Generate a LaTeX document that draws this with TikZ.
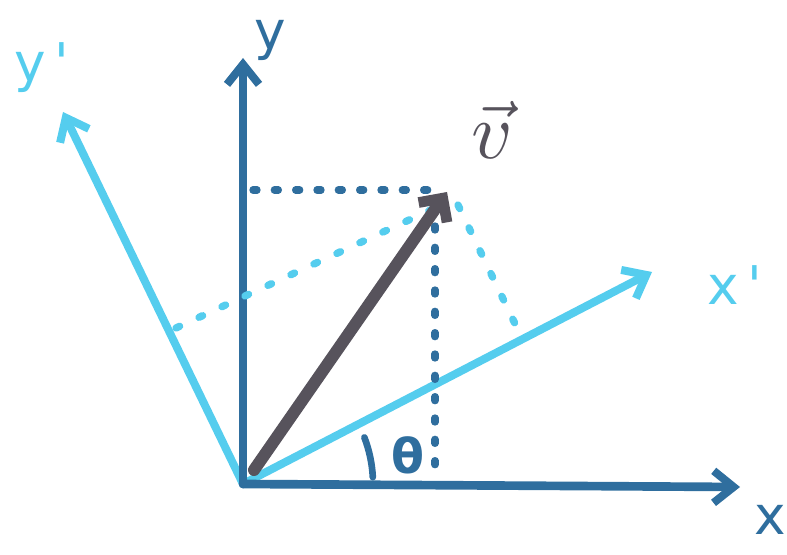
\documentclass[tikz,border=0pt]{standalone}
\usepackage{fontspec}
\usepackage{graphicx}
\newfontfamily\hand{DejaVu Sans}
\usetikzlibrary{arrows.meta}
\definecolor{axisblue}{HTML}{2F6E9E}
\definecolor{lightblue}{HTML}{55CDEE}
\definecolor{vgray}{HTML}{57535C}
\tikzset{
  axisline/.style={line width=6.5pt, line cap=round, line join=round,
    -{Straight Barb[length=15pt,width=24pt,line width=6pt]}},
  dotline/.style={line width=5.5pt, line cap=round, dash pattern=on 3pt off 13pt},
  lbl/.style={font=\hand\fontsize{40}{40}\selectfont, inner sep=0pt},
}
\begin{document}
\begin{tikzpicture}[x=0.75pt,y=-0.75pt]
\useasboundingbox (0,0) rectangle (787,555);
% coordinates
\coordinate (O) at (243,484);
\coordinate (Ytip) at (243,58);
\coordinate (Xtip) at (740,487);
\coordinate (Xptip) at (652,272);
\coordinate (Yptip) at (63,112);
\coordinate (Vtail) at (254,470);
\coordinate (Vtip) at (447,192);
\coordinate (Hs) at (253,190);
\coordinate (He) at (428,190);
\coordinate (Vs) at (435,226);
\coordinate (Ve) at (435,474);
\coordinate (Ps) at (176,328);
\coordinate (Pe) at (437,207);
\coordinate (Qs) at (458,205);
\coordinate (Qe) at (518,330);
% light blue axes
\draw[axisline, lightblue, line width=6pt] (O) -- (Xptip);
\draw[axisline, lightblue, line width=6pt] (O) -- (Yptip);
% dark blue axes
\draw[axisline, axisblue] (O) -- (Ytip);
\draw[axisline, axisblue] (O) -- (Xtip);
% dotted projections
\draw[dotline, axisblue] (Hs) -- (He);
\draw[dotline, axisblue] (Vs) -- (Ve);
\draw[dotline, lightblue, dash pattern=on 3pt off 16pt] (Ps) -- (Pe);
\draw[dotline, lightblue, dash pattern=on 3pt off 16pt] (Qs) -- (Qe);
% vector v
\draw[vgray, line width=9pt, line cap=round,
  -{Straight Barb[length=13pt,width=26pt,line width=8pt]}] (Vtail) -- (Vtip);
% angle mark
\draw[axisblue, line width=5pt, line cap=round] (O) ++(-3:130) arc[start angle=-3, end angle=-21, radius=130];
% labels
\node[lbl, text=axisblue] (ylab) at (270,40) {y};
\node[lbl, text=axisblue] (xlab) at (770,520) {x};
\node[lbl, text=lightblue] (xplab) at (735,285) {x\,'};
\node[lbl, text=lightblue] (yplab) at (42,68) {y\,'};
\node[inner sep=0pt, text=vgray] (vlab) at (492,130) {\scalebox{6}{$\vec{v}$}};
\node[lbl, text=axisblue, font=\hand\bfseries\fontsize{36}{36}\selectfont] (tlab) at (408,455) {θ};
\end{tikzpicture}
\end{document}
